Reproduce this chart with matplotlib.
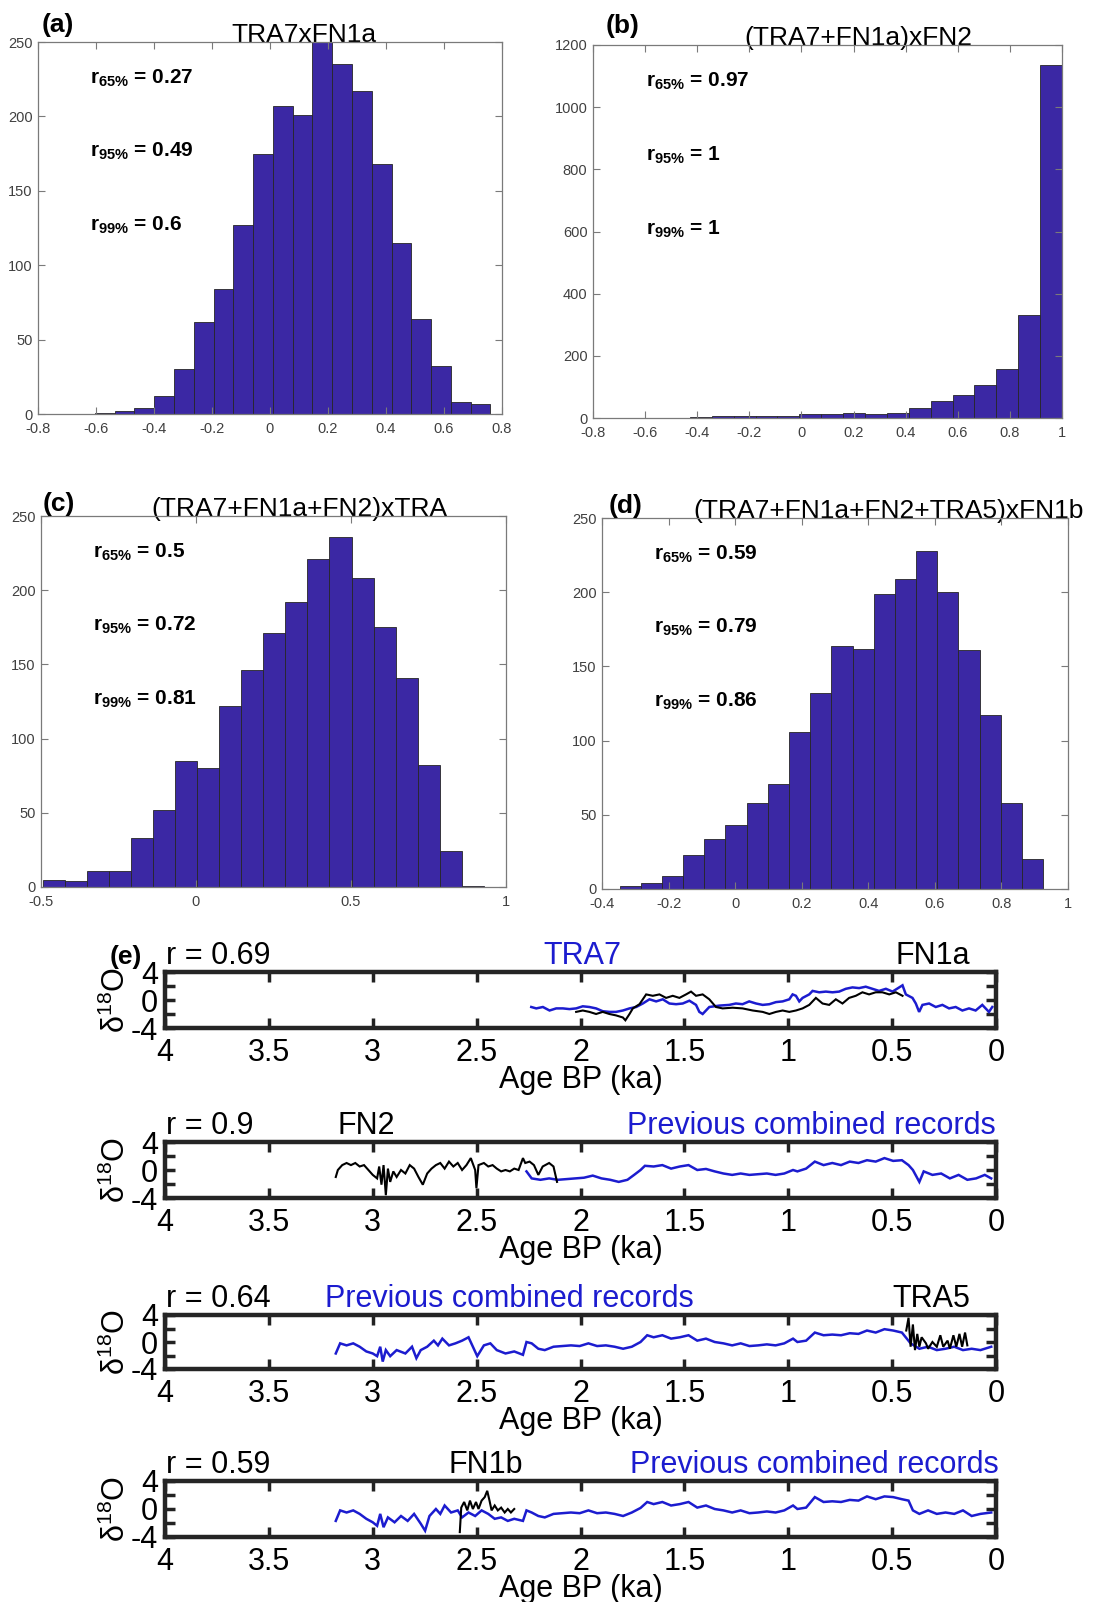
import numpy as np
import matplotlib
matplotlib.use('Agg')
import matplotlib.pyplot as plt

plt.rcParams['font.family'] = ['Liberation Sans', 'DejaVu Sans']
plt.rcParams['axes.unicode_minus'] = False
plt.rcParams['mathtext.fontset'] = 'custom'
plt.rcParams['mathtext.rm'] = 'Liberation Sans'
plt.rcParams['mathtext.bf'] = 'Liberation Sans:bold'
plt.rcParams['mathtext.it'] = 'Liberation Sans:italic'

# ---------------- histogram data ----------------
A_COUNTS = [1, 2, 4, 12, 30, 62, 84, 127, 175, 207, 201, 250, 235, 217, 168, 115, 64, 32, 8, 7]
A_START, A_WIDTH = -0.604, 0.0682
B_COUNTS = [1, 1, 1, 3, 5, 6, 8, 8, 14, 13, 16, 14, 16, 32, 54, 74, 105, 157, 332, 1136]
B_START, B_WIDTH = -0.68, 0.084
C_COUNTS = [5, 4, 11, 11, 33, 52, 85, 80, 122, 146, 171, 192, 221, 236, 208, 175, 141, 82, 24, 1]
C_START, C_WIDTH = -0.495, 0.0712
D_COUNTS = [2, 4, 9, 23, 34, 43, 58, 71, 106, 132, 164, 162, 199, 209, 228, 200, 161, 117, 58, 20]
D_START, D_WIDTH = -0.347, 0.0636

A_R = ['0.27', '0.49', '0.6']
B_R = ['0.97', '1', '1']
C_R = ['0.5', '0.72', '0.81']
D_R = ['0.59', '0.79', '0.86']

# ---------------- time-series data (age ka, d18O) ----------------
TRA7 = [(2.237,-1.0),(2.213,-1.2),(2.181,-1.0),(2.149,-1.5),(2.117,-1.2),(2.085,-1.2),(2.053,-1.3),(2.021,-1.2),
        (1.989,-0.9),(1.957,-1.0),(1.925,-1.2),(1.893,-1.6),(1.861,-1.7),(1.829,-1.7),(1.796,-1.5),(1.764,-1.2),
        (1.732,-1.0),(1.700,-0.5),(1.668,0.1),(1.636,-0.2),(1.604,0.1),(1.572,-0.5),(1.540,-0.6),(1.508,-0.5),
        (1.476,-0.1),(1.444,-0.7),(1.428,-1.7),(1.412,-2.0),(1.380,-1.0),(1.332,-0.8),(1.284,-0.7),(1.252,-0.5),
        (1.220,-0.6),(1.188,-0.2),(1.155,-0.5),(1.123,-0.7),(1.091,-0.6),(1.059,-0.3),(1.027,-0.2),(0.995,0.1),
        (0.979,0.8),(0.963,0.6),(0.947,-0.2),(0.931,0.3),(0.899,0.8),(0.883,1.3),(0.851,1.1),(0.819,1.2),
        (0.787,1.1),(0.755,1.2),(0.723,1.6),(0.691,1.8),(0.659,1.7),(0.627,1.9),(0.595,1.6),(0.563,1.3),
        (0.530,1.6),(0.498,1.2),(0.466,1.8),(0.450,2.1),(0.434,0.8),(0.402,0.3),(0.386,-0.5),(0.370,-1.7),
        (0.354,-0.7),(0.322,-0.5),(0.290,-1.0),(0.258,-0.7),(0.226,-1.2),(0.194,-1.0),(0.162,-1.5),(0.130,-1.2),
        (0.098,-1.5),(0.066,-0.7),(0.034,-1.7),(0.018,-1.0)]

FN1A = [(2.021,-1.7),(1.989,-1.5),(1.957,-1.7),(1.925,-2.0),(1.893,-1.7),(1.861,-2.0),(1.829,-2.2),(1.796,-2.5),
        (1.784,-2.9),(1.764,-2.0),(1.748,-1.2),(1.716,-0.6),(1.684,0.8),(1.652,0.6),(1.620,0.8),(1.588,0.3),
        (1.556,0.6),(1.524,0.3),(1.492,0.8),(1.468,1.2),(1.444,0.6),(1.412,0.8),(1.380,0.1),(1.348,-1.0),
        (1.316,-1.2),(1.268,-1.1),(1.220,-1.2),(1.171,-1.5),(1.123,-1.7),(1.091,-2.0),(1.059,-1.7),(1.027,-1.5),
        (0.995,-1.7),(0.963,-1.5),(0.931,-1.2),(0.899,-0.7),(0.867,0.3),(0.835,-0.5),(0.803,-0.7),(0.771,0.1),
        (0.739,-0.5),(0.707,0.3),(0.675,0.6),(0.643,1.1),(0.611,0.8),(0.579,1.1),(0.547,1.1),(0.514,0.8),
        (0.482,1.1),(0.450,0.6)]

FN2 = [(3.178,-1.0),(3.168,0.0),(3.147,0.7),(3.126,1.0),(3.105,0.7),(3.084,1.0),(3.063,0.5),(3.042,0.7),
       (3.021,0.0),(3.000,-0.7),(2.979,-1.2),(2.969,0.5),(2.958,-2.1),(2.948,0.7),(2.937,-3.6),(2.927,0.2),
       (2.916,-1.7),(2.901,-0.2),(2.885,-1.0),(2.864,0.0),(2.843,-0.5),(2.822,0.7),(2.801,0.2),(2.780,-1.0),
       (2.759,-2.1),(2.738,-0.5),(2.717,0.2),(2.696,0.7),(2.675,1.0),(2.654,0.2),(2.633,1.2),(2.612,0.5),
       (2.591,1.0),(2.570,0.0),(2.549,0.7),(2.528,1.7),(2.507,0.0),(2.501,-2.6),(2.491,0.7),(2.465,1.0),
       (2.444,0.5),(2.423,0.7),(2.403,0.2),(2.382,-0.2),(2.361,0.0),(2.340,-0.2),(2.319,0.2),(2.298,0.0),
       (2.277,1.7),(2.266,1.0),(2.245,1.2),(2.224,0.7),(2.203,-0.7),(2.182,0.5),(2.151,1.0),(2.130,0.5),
       (2.113,-1.7)]

COMB2 = [(2.260,-0.2),(2.235,-1.2),(2.193,-1.4),(2.151,-1.2),(2.109,-1.4),(2.067,-1.3),(2.025,-1.2),(1.983,-1.1),
         (1.941,-0.8),(1.899,-1.2),(1.857,-1.4),(1.816,-1.7),(1.774,-1.4),(1.742,-0.7),(1.711,0.0),(1.690,0.6),
         (1.648,0.5),(1.606,0.7),(1.564,0.2),(1.522,0.5),(1.480,0.7),(1.438,0.0),(1.396,0.15),(1.354,-0.2),
         (1.312,-0.5),(1.270,-0.7),(1.229,-0.5),(1.187,-0.7),(1.145,-0.6),(1.103,-0.5),(1.061,-0.7),(1.019,-0.5),
         (0.977,0.0),(0.956,-0.2),(0.914,0.2),(0.872,1.2),(0.830,0.7),(0.788,1.0),(0.746,0.7),(0.704,1.2),
         (0.662,1.0),(0.621,1.4),(0.579,1.2),(0.537,1.7),(0.495,1.3),(0.453,1.4),(0.421,0.7),(0.400,0.0),
         (0.369,-1.7),(0.348,-0.2),(0.306,-0.7),(0.264,-0.5),(0.222,-1.2),(0.180,-0.7),(0.138,-1.4),(0.096,-1.2),
         (0.054,-0.7),(0.023,-1.2)]

COMB3 = [(3.178,-1.7),(3.157,-0.2),(3.126,-0.5),(3.094,-0.2),(3.063,-0.7),(3.031,-1.4),(3.000,-1.7),(2.979,-2.1),
         (2.964,-0.7),(2.952,-2.9),(2.937,-1.2),(2.916,-2.1),(2.885,-1.2),(2.843,-1.7),(2.811,-0.7),(2.790,-2.4),
         (2.769,-1.2),(2.738,-0.7),(2.706,0.2),(2.686,-0.5),(2.665,0.5),(2.633,-0.5),(2.602,-0.2),(2.570,0.2),
         (2.539,0.7),(2.518,-0.7),(2.497,-2.1),(2.465,-0.5),(2.434,-0.2),(2.403,-1.2),(2.361,-1.7),(2.319,-1.4),
         (2.277,-1.9),(2.260,0.0),(2.235,-0.2),(2.203,-1.0),(2.172,-1.2),(2.130,-0.7),(2.088,-0.6),(2.046,-0.5),
         (2.004,-0.6),(1.962,-0.2),(1.920,-0.6),(1.878,-0.5),(1.836,-0.7),(1.795,-1.0),(1.753,-0.7),(1.711,0.0),
         (1.679,1.0),(1.648,0.7),(1.606,1.0),(1.564,0.5),(1.522,0.7),(1.480,1.0),(1.438,0.2),(1.396,0.5),
         (1.354,0.0),(1.312,-0.2),(1.270,-0.5),(1.229,-0.2),(1.187,-0.6),(1.145,-0.5),(1.103,-0.35),(1.061,-0.5),
         (1.019,-0.2),(0.977,0.5),(0.956,0.0),(0.914,0.2),(0.872,1.4),(0.830,1.0),(0.788,1.1),(0.746,1.0),
         (0.704,1.3),(0.662,1.2),(0.621,1.7),(0.579,1.4),(0.537,1.9),(0.495,1.7),(0.453,1.4),(0.411,-0.2),
         (0.369,-1.0),(0.327,-0.7),(0.285,-1.2),(0.243,-1.0),(0.201,-0.7),(0.159,-1.2),(0.117,-1.0),(0.075,-1.2),
         (0.023,-0.7)]

TRA5 = [(0.432,1.7),(0.421,3.6),(0.411,-0.7),(0.400,2.6),(0.390,-1.2),(0.379,1.2),(0.369,-0.7),(0.358,0.7),
        (0.337,-0.2),(0.327,-1.0),(0.306,0.0),(0.285,-0.7),(0.268,1.0),(0.254,-0.7),(0.233,0.2),(0.222,-1.0),
        (0.205,1.0),(0.191,-0.7),(0.176,1.2),(0.163,-0.7),(0.149,1.4),(0.138,-0.5)]

COMB4 = [(3.178,-1.7),(3.157,-0.2),(3.126,-0.5),(3.094,-0.2),(3.063,-0.7),(3.031,-1.4),(3.000,-1.9),(2.979,-2.4),
         (2.964,-0.7),(2.948,-2.6),(2.927,-1.2),(2.895,-1.9),(2.864,-1.0),(2.832,-1.7),(2.801,-0.7),(2.769,-2.1),
         (2.748,-3.1),(2.727,-1.0),(2.696,0.0),(2.675,-0.7),(2.654,0.5),(2.623,-0.5),(2.591,-0.2),(2.570,-1.2),
         (2.539,-0.5),(2.507,-1.0),(2.476,-0.2),(2.444,-0.7),(2.413,-1.4),(2.382,-1.2),(2.350,-1.7),(2.319,-1.4),
         (2.277,-1.7),(2.260,-0.2),(2.235,-0.5),(2.203,-1.0),(2.172,-1.2),(2.130,-0.7),(2.088,-0.6),(2.046,-0.5),
         (2.004,-0.6),(1.962,-0.2),(1.920,-0.6),(1.878,-0.5),(1.836,-0.7),(1.795,-1.0),(1.753,-0.5),(1.711,0.15),
         (1.679,1.0),(1.648,0.7),(1.606,1.0),(1.564,0.5),(1.522,0.7),(1.480,1.0),(1.438,0.2),(1.396,0.5),
         (1.354,0.0),(1.312,-0.2),(1.270,-0.5),(1.229,-0.2),(1.187,-0.6),(1.145,-0.5),(1.103,-0.35),(1.061,-0.5),
         (1.019,-0.2),(0.977,0.5),(0.956,0.0),(0.914,0.2),(0.872,1.7),(0.830,1.0),(0.788,1.1),(0.746,1.0),
         (0.704,1.3),(0.662,1.2),(0.621,1.8),(0.579,1.4),(0.537,1.8),(0.495,1.7),(0.453,1.4),(0.421,1.2),
         (0.400,-0.2),(0.369,-0.7),(0.327,-0.2),(0.285,-0.7),(0.243,-0.5),(0.201,-0.7),(0.159,-0.2),(0.117,-1.0),
         (0.075,-0.7),(0.023,-0.5)]

FN1B = [(2.581,-3.3),(2.574,0.2),(2.560,1.0),(2.545,-0.2),(2.532,1.2),(2.518,0.0),(2.503,1.0),(2.491,0.0),
        (2.476,1.2),(2.461,1.7),(2.449,2.6),(2.438,1.2),(2.428,-0.2),(2.413,0.5),(2.398,-0.2),(2.382,0.2),
        (2.365,-0.5),(2.350,0.0),(2.335,-0.5),(2.319,0.0)]

AGE_TICKS = [4, 3.5, 3, 2.5, 2, 1.5, 1, 0.5, 0]

# ---------------- figure ----------------
W, H = 1099, 1602
fig = plt.figure(figsize=(W / 100, H / 100), dpi=100)


def rect(l, t, r, b):
    return [l / W, 1 - b / H, (r - l) / W, (b - t) / H]


def fmt(v):
    return '%g' % round(v, 6)


BAR = '#3b28a4'
GREY = '#7a7a7a'


def hist_panel(px, start, width, counts, xlim, xticks, ylim, yticks,
               title, title_x, letter, letter_px, rvals):
    ax = fig.add_axes(rect(*px))
    edges = start + width * np.arange(len(counts) + 1)
    ax.hist(edges[:-1] + width / 2, bins=edges, weights=counts,
            color=BAR, edgecolor='#262626', linewidth=0.6)
    ax.set_xlim(*xlim)
    ax.set_ylim(*ylim)
    ax.set_xticks(xticks)
    ax.set_xticklabels([fmt(v) for v in xticks])
    ax.set_yticks(yticks)
    ax.set_yticklabels([fmt(v) for v in yticks])
    ax.tick_params(direction='in', length=5, width=0.8, color=GREY,
                   top=True, right=True, labelsize=10.5, labelcolor='#404040')
    ax.tick_params(axis='x', pad=6)
    ax.tick_params(axis='y', pad=4)
    for s in ax.spines.values():
        s.set_color(GREY)
        s.set_linewidth(0.9)
    ax.text(title_x, 1.0, title, transform=ax.transAxes, ha='center',
            va='baseline', fontsize=19, color='black', zorder=1)
    fig.text(letter_px[0] / W, 1 - letter_px[1] / H, letter, fontsize=19,
             fontweight='bold', ha='left', va='center')
    for yy, pct, rv in zip([0.903, 0.705, 0.507], ['65', '95', '99'], rvals):
        ax.text(0.112, yy, r'$\mathbf{r_{%s\%%}}$ = %s' % (pct, rv),
                transform=ax.transAxes, fontsize=15, fontweight='bold',
                ha='left', va='center')
    return ax


hist_panel((38, 42, 502, 414), A_START, A_WIDTH, A_COUNTS, (-0.8, 0.8),
           [-0.8, -0.6, -0.4, -0.2, 0, 0.2, 0.4, 0.6, 0.8], (0, 250),
           [0, 50, 100, 150, 200, 250], 'TRA7xFN1a', 0.573, '(a)', (42, 25), A_R)
hist_panel((593, 45, 1062, 418), B_START, B_WIDTH, B_COUNTS, (-0.8, 1.0),
           [-0.8, -0.6, -0.4, -0.2, 0, 0.2, 0.4, 0.6, 0.8, 1.0], (0, 1200),
           [0, 200, 400, 600, 800, 1000, 1200], '(TRA7+FN1a)xFN2', 0.565, '(b)', (606, 26), B_R)
hist_panel((41, 516, 506, 887), C_START, C_WIDTH, C_COUNTS, (-0.5, 1.0),
           [-0.5, 0, 0.5, 1.0], (0, 250),
           [0, 50, 100, 150, 200, 250], '(TRA7+FN1a+FN2)xTRA', 0.555, '(c)', (43, 504), C_R)
hist_panel((602, 518, 1068, 889), D_START, D_WIDTH, D_COUNTS, (-0.4, 1.0),
           [-0.4, -0.2, 0, 0.2, 0.4, 0.6, 0.8, 1.0], (0, 250),
           [0, 50, 100, 150, 200, 250], '(TRA7+FN1a+FN2+TRA5)xFN1b', 0.614, '(d)', (609, 506), D_R)

BLUE = '#1c1ccf'


def ts_panel(top, bottom, series, labels):
    ax = fig.add_axes(rect(165, top, 996, bottom))
    for data, color, lw in series:
        age = [p[0] for p in data]
        val = [p[1] for p in data]
        ax.plot(age, val, color=color, lw=lw, solid_joinstyle='miter')
    ax.set_xlim(4, 0)
    ax.set_ylim(-4, 4)
    ax.set_xticks(AGE_TICKS)
    ax.set_xticklabels([fmt(v) for v in AGE_TICKS])
    ax.set_yticks([-4, -2, 0, 2, 4])
    ax.set_yticklabels(['-4', '', '0', '', '4'])
    ax.tick_params(direction='in', length=7, width=2.5, color='#222222',
                   top=True, right=True, labelsize=22)
    ax.tick_params(axis='x', pad=7)
    ax.tick_params(axis='y', pad=5)
    for s in ax.spines.values():
        s.set_color('#252525')
        s.set_linewidth(3.2)
    ax.set_xlabel('Age BP (ka)', fontsize=22, labelpad=-2)
    ax.set_ylabel('δ$^{18}$O', fontsize=22)
    ax.yaxis.set_label_coords(-0.040, 0.5)
    base = top - 8
    for txt, x, ha, color in labels:
        fig.text(x / W, 1 - base / H, txt, fontsize=22, ha=ha, va='baseline', color=color)
    return ax


ts_panel(972, 1028, [(TRA7, BLUE, 1.8), (FN1A, 'black', 1.5)],
         [('r = 0.69', 166, 'left', 'black'), ('TRA7', 582, 'center', BLUE),
          ('FN1a', 970, 'right', 'black')])
fig.text(110 / W, 1 - 964 / H, '(e)', fontsize=19, fontweight='bold', ha='left', va='baseline')

ts_panel(1142, 1198, [(COMB2, BLUE, 1.8), (FN2, 'black', 1.5)],
         [('r = 0.9', 166, 'left', 'black'), ('FN2', 337, 'left', 'black'),
          ('Previous combined records', 996, 'right', BLUE)])

ts_panel(1315, 1369, [(COMB3, BLUE, 1.8), (TRA5, 'black', 1.5)],
         [('r = 0.64', 166, 'left', 'black'), ('Previous combined records', 325, 'left', BLUE),
          ('TRA5', 970, 'right', 'black')])

ts_panel(1481, 1537, [(COMB4, BLUE, 1.8), (FN1B, 'black', 1.5)],
         [('r = 0.59', 166, 'left', 'black'), ('FN1b', 449, 'left', 'black'),
          ('Previous combined records', 999, 'right', BLUE)])

fig.savefig('out.png', dpi=100)
